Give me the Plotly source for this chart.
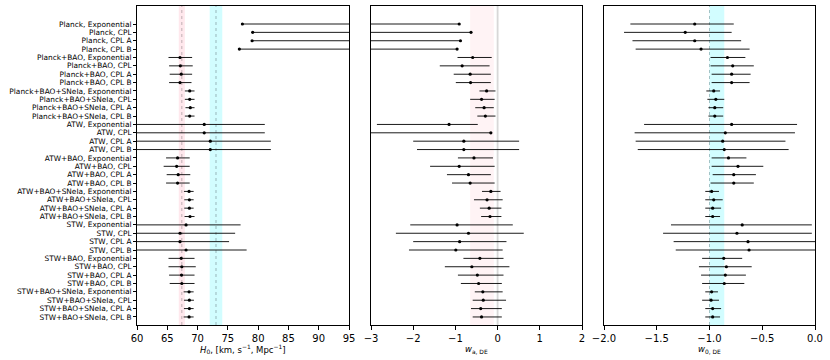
import plotly.graph_objects as go
from plotly.subplots import make_subplots

datasets = ["Planck", "Planck+BAO", "Planck+BAO+SNeIa",
            "ATW", "ATW+BAO", "ATW+BAO+SNeIa",
            "STW", "STW+BAO", "STW+BAO+SNeIa"]
models = ["Exponential", "CPL", "CPL A", "CPL B"]
labels = [f"{d}, {m}" for d in datasets for m in models]

# H0 [km/s/Mpc]: central, lower bound, upper bound
h0 = [77.4, 79.1, 79.0, 76.9,
      67.1, 67.15, 67.3, 67.1,
      68.7, 68.7, 68.8, 68.7,
      71.1, 71.1, 72.1, 72.1,
      66.7, 66.55, 66.8, 66.7,
      68.6, 68.65, 68.65, 68.75,
      68.1, 67.1, 67.1, 68.1,
      67.3, 67.4, 67.35, 67.4,
      68.6, 68.65, 68.65, 68.6]
h0_lo = [77.3, 78.9, 78.9, 76.8,
         65.2, 65.3, 65.4, 65.3,
         67.9, 67.9, 68.0, 67.9,
         55.0, 55.0, 55.0, 55.0,
         64.8, 64.4, 64.9, 64.8,
         67.75, 67.8, 67.8, 67.85,
         55.0, 55.0, 55.0, 55.0,
         65.2, 65.2, 65.3, 65.4,
         67.7, 67.75, 67.75, 67.7]
h0_hi = [100.0, 100.0, 100.0, 100.0,
         69.1, 69.2, 69.1, 69.0,
         69.5, 69.5, 69.5, 69.5,
         81.1, 81.1, 82.1, 82.1,
         68.7, 68.7, 68.8, 68.7,
         69.35, 69.35, 69.35, 69.5,
         77.1, 76.2, 75.2, 78.1,
         69.5, 69.7, 69.5, 69.5,
         69.35, 69.4, 69.35, 69.35]

# w_a
wa = [-0.91, -0.63, -0.88, -0.96,
      -0.59, -0.84, -0.65, -0.64,
      -0.26, -0.38, -0.32, -0.29,
      -1.15, -0.16, -0.80, -0.80,
      -0.56, -0.91, -0.69, -0.65,
      -0.16, -0.25, -0.20, -0.18,
      -0.96, -0.69, -0.90, -0.99,
      -0.42, -0.61, -0.48, -0.45,
      -0.35, -0.34, -0.40, -0.38]
wa_lo = [-4.0, -4.0, -4.0, -4.0,
         -0.95, -1.37, -1.04, -0.99,
         -0.43, -0.65, -0.53, -0.48,
         -2.86, -4.0, -2.0, -1.91,
         -0.94, -1.60, -1.20, -1.08,
         -0.37, -0.56, -0.42, -0.39,
         -2.07, -2.41, -2.0, -2.10,
         -0.81, -1.25, -0.94, -0.87,
         -0.54, -0.59, -0.63, -0.59]
wa_hi = [-0.90, -0.62, -0.87, -0.95,
         -0.14, -0.19, -0.16, -0.16,
         -0.05, -0.07, -0.09, -0.05,
         -0.47, -0.15, 0.51, 0.51,
         -0.11, -0.07, -0.16, -0.07,
         0.07, 0.12, 0.09, 0.09,
         0.36, 0.62, 0.21, 0.12,
         0.14, 0.28, 0.14, 0.10,
         0.12, 0.20, 0.10, 0.10]

# w_0
w0 = [-1.14, -1.23, -1.14, -1.08,
      -0.83, -0.78, -0.79, -0.79,
      -0.96, -0.94, -0.95, -0.95,
      -0.79, -0.85, -0.875, -0.86,
      -0.82, -0.73, -0.77, -0.77,
      -0.98, -0.96, -0.97, -0.97,
      -0.69, -0.74, -0.635, -0.625,
      -0.865, -0.84, -0.85, -0.86,
      -0.98, -0.985, -0.97, -0.97]
w0_lo = [-1.75, -1.81, -1.73, -1.70,
         -0.99, -0.99, -0.98, -0.98,
         -1.03, -1.02, -1.01, -1.01,
         -1.62, -1.71, -1.70, -1.68,
         -0.98, -0.98, -0.97, -0.99,
         -1.04, -1.04, -1.04, -1.04,
         -1.365, -1.44, -1.34, -1.32,
         -1.07, -1.10, -1.08, -1.07,
         -1.04, -1.07, -1.04, -1.04]
w0_hi = [-0.77, -0.79, -0.70, -0.62,
         -0.66, -0.58, -0.61, -0.62,
         -0.90, -0.86, -0.87, -0.87,
         -0.17, -0.19, -0.28, -0.25,
         -0.65, -0.49, -0.56, -0.58,
         -0.91, -0.875, -0.89, -0.90,
         -0.03, -0.03, 0.1, 0.1,
         -0.69, -0.60, -0.655, -0.67,
         -0.92, -0.91, -0.89, -0.90]

# reference bands
planck_h0, planck_h0_err = 67.4, 0.5
shoes_h0, shoes_h0_err = 73.04, 1.04
wa_band = (-0.65, -0.09)
w0_band = (-1.0, -0.86)

ypos = list(range(len(labels)))
FONT = "DejaVu Sans"

fig = make_subplots(rows=1, cols=3, shared_yaxes=False, horizontal_spacing=0.02)


def add_series(col, vals, lo, hi):
    fig.add_trace(go.Scatter(
        x=vals, y=ypos, mode="markers",
        marker=dict(color="black", size=3.2),
        error_x=dict(type="data", symmetric=False,
                     array=[h - v for h, v in zip(hi, vals)],
                     arrayminus=[v - l for v, l in zip(vals, lo)],
                     color="black", thickness=0.9, width=0),
        showlegend=False, cliponaxis=True), row=1, col=col)


add_series(1, h0, h0_lo, h0_hi)
add_series(2, wa, wa_lo, wa_hi)
add_series(3, w0, w0_lo, w0_hi)

# bands (drawn below the data)
fig.add_vrect(x0=planck_h0 - planck_h0_err, x1=planck_h0 + planck_h0_err,
              fillcolor="#ffe8ed", opacity=1, line_width=0, layer="below", row=1, col=1)
fig.add_vrect(x0=shoes_h0 - shoes_h0_err, x1=shoes_h0 + shoes_h0_err,
              fillcolor="#d2fdff", opacity=1, line_width=0, layer="below", row=1, col=1)
fig.add_vline(x=planck_h0, line=dict(color="#b0a0a4", width=0.8, dash="dot"),
              layer="below", row=1, col=1)
fig.add_vline(x=shoes_h0, line=dict(color="#8aa4a8", width=0.8, dash="dot"),
              layer="below", row=1, col=1)
fig.add_vrect(x0=wa_band[0], x1=wa_band[1],
              fillcolor="#fff3f5", opacity=1, line_width=0, layer="below", row=1, col=2)
fig.add_vline(x=0, line=dict(color="#d8d8d8", width=1.8),
              layer="below", row=1, col=2)
fig.add_vrect(x0=w0_band[0], x1=w0_band[1],
              fillcolor="#d2fdff", opacity=1, line_width=0, layer="below", row=1, col=3)
fig.add_vline(x=-1.0, line=dict(color="#8fb4b8", width=0.8, dash="dot"),
              layer="below", row=1, col=3)

axis_common = dict(showline=True, linecolor="black", linewidth=1, mirror=True,
                   ticks="outside", ticklen=3.5, tickwidth=0.8, tickcolor="black",
                   showgrid=False, zeroline=False, automargin=False,
                   tickfont=dict(family=FONT, size=10, color="black"))

fig.update_xaxes(**axis_common)
fig.update_xaxes(domain=[137 / 830, 349 / 830], range=[60, 95],
                 tickvals=[60, 65, 70, 75, 80, 85, 90, 95], row=1, col=1)
fig.update_xaxes(domain=[371 / 830, 582 / 830], range=[-3, 2],
                 tickvals=[-3, -2, -1, 0, 1, 2], ticktext=["−3", "−2", "−1", "0", "1", "2"],
                 row=1, col=2)
fig.update_xaxes(domain=[604 / 830, 815 / 830], range=[-2, 0],
                 tickvals=[-2, -1.5, -1, -0.5, 0],
                 ticktext=["−2.0", "−1.5", "−1.0", "−0.5", "0.0"], row=1, col=3)

titles = [("<i>H</i><sub>0</sub>, [km, s<sup>−1</sup>, Mpc<sup>−1</sup>]", (137 + 349) / 2 / 830),
          ("<i>w</i><sub>a, DE</sub>", (371 + 582) / 2 / 830),
          ("<i>w</i><sub>0, DE</sub>", (604 + 815) / 2 / 830)]
for text, xc in titles:
    fig.add_annotation(text=text, xref="paper", yref="paper", x=xc, y=0,
                       yshift=-24, xanchor="center", yanchor="middle", showarrow=False,
                       font=dict(family=FONT, size=8.5, color="black"))

yrange = [35.96, -2.15]
fig.update_yaxes(showline=True, linecolor="black", linewidth=1, mirror=True,
                 showgrid=False, zeroline=False, range=yrange, automargin=False)
fig.update_yaxes(tickvals=ypos, ticktext=labels, ticks="outside", ticklen=3,
                 tickwidth=0.8, tickcolor="black",
                 tickfont=dict(family=FONT, size=7.4, color="black"), row=1, col=1)
fig.update_yaxes(showticklabels=False, ticks="", row=1, col=2)
fig.update_yaxes(showticklabels=False, ticks="", row=1, col=3)

fig.update_layout(width=830, height=360,
                  margin=dict(l=0, r=0, t=6, b=35),
                  plot_bgcolor="white", paper_bgcolor="white",
                  font=dict(family=FONT, color="black"))

fig.write_html("out.html", config={"displayModeBar": False},
               post_script="document.body.style.margin='0';document.body.style.padding='0';")
